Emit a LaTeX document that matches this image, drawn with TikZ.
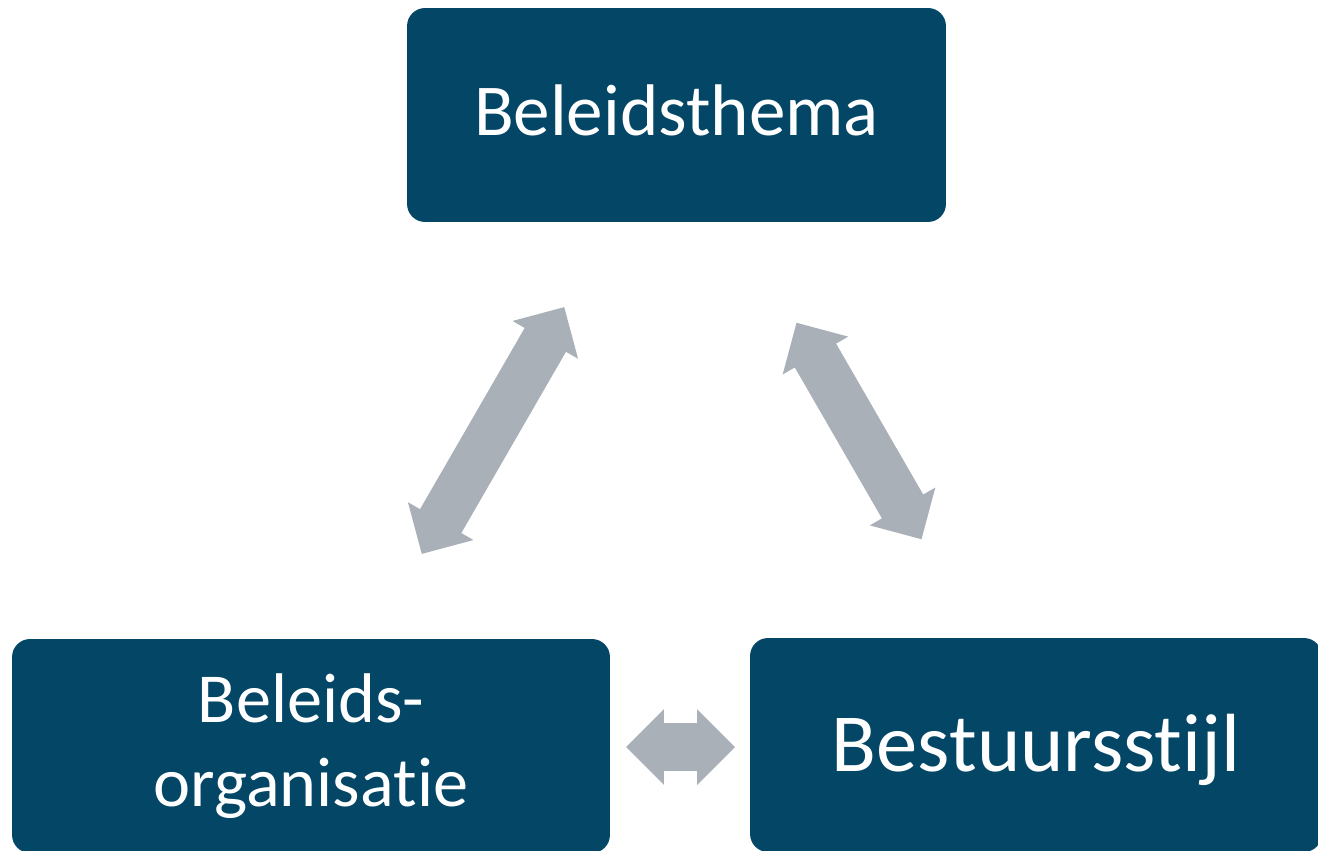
\documentclass[tikz,border=0pt]{standalone}
\usepackage{fontspec}
\setmainfont{Carlito}[Ligatures=NoCommon]
\usetikzlibrary{shapes.arrows, positioning}
\definecolor{boxblue}{RGB}{3,70,102}
\definecolor{arrowgray}{RGB}{170,176,184}

\begin{document}
\begin{tikzpicture}[x=0.02cm, y=-0.02cm,
		thema/.style={rectangle, rounded corners=0.36cm, fill=boxblue, text=white, minimum height=4.28cm, align=center},
		link/.style={double arrow, fill=arrowgray, inner xsep=0pt, inner ysep=0.47cm, double arrow head extend=0.28cm, double arrow tip angle=90}]
		\clip (0,0) rectangle (1318,851);
		% boxes
		\node [thema, minimum width=10.78cm, text depth=5pt, font=\fontsize{41.6}{50}\selectfont] (thema) at (676.5,115) {Beleidsthema};
		\node [thema, minimum width=11.96cm, font=\fontsize{40}{48}\selectfont] (organisatie) at (311,746) {Beleids-\\organisatie};
		\node [thema, minimum width=11.44cm, text depth=2.5pt, font=\fontsize{47}{56}\selectfont] (stijl) at (1036,745) {Bestuursstijl};
		% arrows
		\node [link, minimum height=5.7cm, rotate=60] (thema-org) at (493,430.5) {};
		\node [link, minimum height=5.0cm, rotate=-60] (thema-stijl) at (859,431) {};
		\node [link, minimum height=2.18cm] (org-stijl) at (680.5,747) {};
	\end{tikzpicture}
\end{document}
